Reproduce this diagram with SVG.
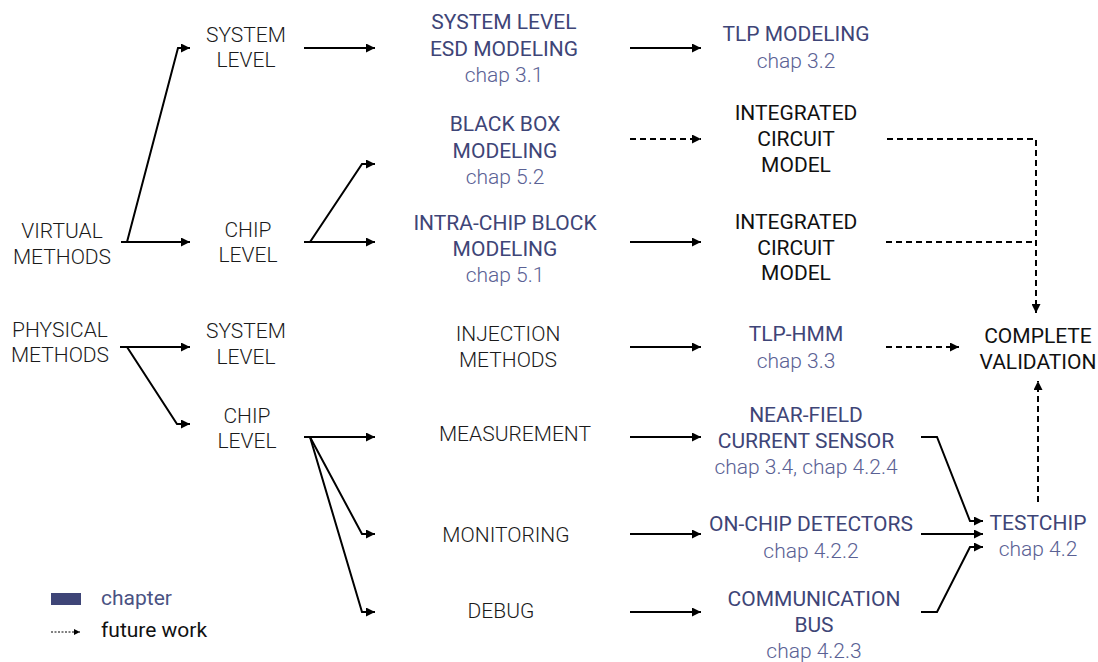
<svg xmlns="http://www.w3.org/2000/svg" width="1098" height="662" viewBox="0 0 1098 662">
<defs>
<marker id="ah" markerUnits="userSpaceOnUse" markerWidth="9" markerHeight="9" refX="9" refY="4.5" orient="auto">
<path d="M0,0 L9,4.5 L0,9 z" fill="#000"/>
</marker>
<marker id="ahs" markerUnits="userSpaceOnUse" markerWidth="6" markerHeight="6" refX="6" refY="3" orient="auto">
<path d="M0,0 L6,3 L0,6 z" fill="#000"/>
</marker>
</defs>
<style>
text{font-family:Roboto,"Liberation Sans",sans-serif;font-size:21px;text-anchor:middle}
.lt{font-weight:300;fill:#1a1a1a}
.bk{font-weight:400;fill:#111}
.ti{font-weight:400;fill:#3e4577}
.ch{font-weight:300;fill:#5a6194}
.c line,.c polyline{fill:none;stroke:#000;stroke-width:2;marker-end:url(#ah)}
.c .d{stroke-dasharray:6 4}
</style>
<rect width="1098" height="662" fill="#fff"/>

<g class="c" id="connectors">
<polyline points="121,242 127,242 178,48 190,48"/>
<line x1="121" y1="242" x2="190" y2="242"/>
<line x1="304" y1="48" x2="375" y2="48"/>
<line x1="304" y1="242" x2="375" y2="242"/>
<polyline points="304,242 310,242 362,164 375,164"/>
<line x1="120" y1="347" x2="190" y2="347"/>
<polyline points="120,347 127,347 177,424 190,424"/>
<line x1="304" y1="437" x2="375" y2="437"/>
<polyline points="304,437 310,437 362,534 375,534"/>
<polyline points="304,437 310,437 362,612 375,612"/>
<line x1="630" y1="48" x2="701" y2="48"/>
<line class="d" x1="630" y1="139" x2="701" y2="139"/>
<line x1="630" y1="242" x2="701" y2="242"/>
<line x1="630" y1="347" x2="701" y2="347"/>
<line x1="630" y1="437" x2="701" y2="437"/>
<line x1="630" y1="534" x2="701" y2="534"/>
<line x1="630" y1="612" x2="701" y2="612"/>
<polyline class="d" points="887,139 1036,139 1036,313"/>
<line class="d" x1="886" y1="242" x2="1036" y2="242" style="marker-end:none"/>
<line class="d" x1="886" y1="347" x2="959" y2="347"/>
<line class="d" x1="1038" y1="502" x2="1038" y2="381"/>
<polyline points="921,437 937,437 970,521 983,521"/>
<line x1="921" y1="534" x2="983" y2="534"/>
<polyline points="921,612 937,612 970,547 983,547"/>
</g>

<g id="virtual-methods"><text class="lt" x="62" y="238">VIRTUAL</text><text class="lt" x="62" y="264">METHODS</text></g>
<g id="physical-methods"><text class="lt" x="60" y="337">PHYSICAL</text><text class="lt" x="60" y="362">METHODS</text></g>
<g id="v-system-level"><text class="lt" x="246" y="42">SYSTEM</text><text class="lt" x="246" y="67">LEVEL</text></g>
<g id="v-chip-level"><text class="lt" x="248" y="237">CHIP</text><text class="lt" x="248" y="262">LEVEL</text></g>
<g id="p-system-level"><text class="lt" x="246" y="338">SYSTEM</text><text class="lt" x="246" y="364">LEVEL</text></g>
<g id="p-chip-level"><text class="lt" x="247" y="423">CHIP</text><text class="lt" x="247" y="448">LEVEL</text></g>

<g id="esd-modeling"><text class="ti" x="504" y="29">SYSTEM LEVEL</text><text class="ti" x="504" y="56">ESD MODELING</text><text class="ch" x="504" y="82">chap 3.1</text></g>
<g id="black-box"><text class="ti" x="505" y="131">BLACK BOX</text><text class="ti" x="505" y="158">MODELING</text><text class="ch" x="505" y="184">chap 5.2</text></g>
<g id="intra-chip"><text class="ti" x="505" y="230">INTRA-CHIP BLOCK</text><text class="ti" x="505" y="256">MODELING</text><text class="ch" x="505" y="282">chap 5.1</text></g>
<g id="injection"><text class="lt" x="508" y="341">INJECTION</text><text class="lt" x="508" y="367">METHODS</text></g>
<g id="measurement"><text class="lt" x="515" y="441">MEASUREMENT</text></g>
<g id="monitoring"><text class="lt" x="506" y="542">MONITORING</text></g>
<g id="debug"><text class="lt" x="501" y="618">DEBUG</text></g>

<g id="tlp-modeling"><text class="ti" x="796" y="41">TLP MODELING</text><text class="ch" x="796" y="68">chap 3.2</text></g>
<g id="ic-model-1"><text class="bk" x="796" y="120">INTEGRATED</text><text class="bk" x="796" y="146">CIRCUIT</text><text class="bk" x="796" y="172">MODEL</text></g>
<g id="ic-model-2"><text class="bk" x="796" y="229">INTEGRATED</text><text class="bk" x="796" y="255">CIRCUIT</text><text class="bk" x="796" y="280">MODEL</text></g>
<g id="tlp-hmm"><text class="ti" x="796" y="341">TLP-HMM</text><text class="ch" x="796" y="368">chap 3.3</text></g>
<g id="near-field"><text class="ti" x="806" y="422">NEAR-FIELD</text><text class="ti" x="806" y="448">CURRENT SENSOR</text><text class="ch" x="806" y="474">chap 3.4, chap 4.2.4</text></g>
<g id="on-chip-detectors"><text class="ti" x="811" y="531">ON-CHIP DETECTORS</text><text class="ch" x="811" y="558">chap 4.2.2</text></g>
<g id="communication-bus"><text class="ti" x="814" y="606">COMMUNICATION</text><text class="ti" x="814" y="632">BUS</text><text class="ch" x="814" y="658">chap 4.2.3</text></g>

<g id="complete-validation"><text class="bk" x="1038" y="343">COMPLETE</text><text class="bk" x="1038" y="369">VALIDATION</text></g>
<g id="testchip"><text class="ti" x="1038" y="530">TESTCHIP</text><text class="ch" x="1038" y="556">chap 4.2</text></g>

<g id="legend">
<rect x="51" y="593" width="30" height="12" fill="#3e4577"/>
<text class="ti" x="101" y="605" style="text-anchor:start;fill:#4a5283">chapter</text>
<line x1="51" y1="632" x2="80" y2="632" stroke="#000" stroke-width="1" stroke-dasharray="2 1.5" marker-end="url(#ahs)"/>
<text class="bk" x="101" y="637" style="text-anchor:start">future work</text>
</g>
</svg>
